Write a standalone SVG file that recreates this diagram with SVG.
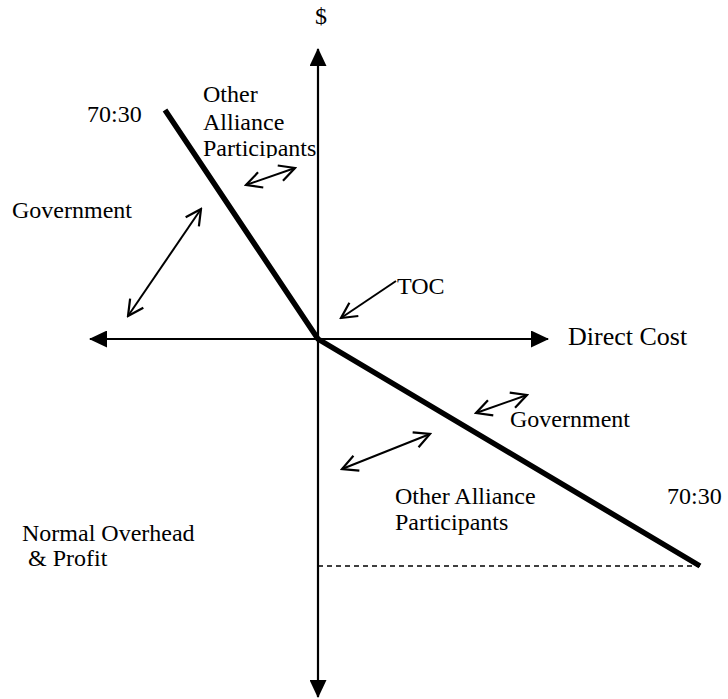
<svg xmlns="http://www.w3.org/2000/svg" width="728" height="699" viewBox="0 0 728 699">
  <style>
    .lbl { font-family: "Liberation Serif", "Times New Roman", serif; font-size: 24px; fill: #000; }
    .axis { stroke: #000; stroke-width: 2.2; fill: none; }
    .curve { stroke: #000; stroke-width: 5.5; fill: none; stroke-linejoin: miter; }
    .dbl { stroke: #000; stroke-width: 2; fill: none; }
    .dash { stroke: #000; stroke-width: 1.3; stroke-dasharray: 5 4; fill: none; }
  </style>
  <defs>
    <marker id="solidHead" viewBox="0 0 18 17" refX="17" refY="8.5" markerWidth="18" markerHeight="17" markerUnits="userSpaceOnUse" orient="auto-start-reverse">
      <path d="M0,0 L18,8.5 L0,17 Z" fill="#000"/>
    </marker>
    <marker id="openHead" viewBox="-18 -10 20 20" refX="0" refY="0" markerWidth="20" markerHeight="20" markerUnits="userSpaceOnUse" orient="auto-start-reverse">
      <path d="M-15.5,-8 L0,0 L-15.5,8" fill="none" stroke="#000" stroke-width="2.2"/>
    </marker>
    <clipPath id="boxClip">
      <rect x="195" y="75" width="140" height="83"/>
    </clipPath>
  </defs>

  <!-- axes, cost curve and pointer arrows -->
  <g id="connectors">
    <line class="axis" x1="318" y1="339" x2="318" y2="49" marker-end="url(#solidHead)"/>
    <line class="axis" x1="318" y1="339" x2="318" y2="697" marker-end="url(#solidHead)"/>
    <line class="axis" x1="318" y1="339" x2="90" y2="339" marker-end="url(#solidHead)"/>
    <line class="axis" x1="318" y1="339" x2="548" y2="339" marker-end="url(#solidHead)"/>
    <polyline class="curve" points="165,110 318,339 700,566"/>
    <line class="dash" x1="318" y1="566" x2="700" y2="566"/>
    <line class="dbl" x1="246" y1="185" x2="295" y2="168" marker-start="url(#openHead)" marker-end="url(#openHead)"/>
    <line class="dbl" x1="128" y1="316" x2="201" y2="209" marker-start="url(#openHead)" marker-end="url(#openHead)"/>
    <line class="dbl" x1="396" y1="281" x2="341" y2="318" marker-end="url(#openHead)"/>
    <line class="dbl" x1="476" y1="413" x2="527" y2="395" marker-start="url(#openHead)" marker-end="url(#openHead)"/>
    <line class="dbl" x1="342" y1="469" x2="430" y2="434" marker-start="url(#openHead)" marker-end="url(#openHead)"/>
  </g>

  <g id="label-dollar"><text class="lbl" x="315" y="24">$</text></g>
  <g id="label-direct-cost"><text class="lbl" x="568" y="345" style="font-size:26px">Direct Cost</text></g>
  <g id="label-ratio-top"><text class="lbl" x="87" y="122">70:30</text></g>
  <g id="label-other-top" clip-path="url(#boxClip)">
    <text class="lbl" x="203" y="102">Other</text>
    <text class="lbl" x="203" y="130">Alliance</text>
    <text class="lbl" x="203" y="156">Participants</text>
  </g>
  <g id="label-government-left"><text class="lbl" x="12" y="218">Government</text></g>
  <g id="label-toc"><text class="lbl" x="397" y="294">TOC</text></g>
  <g id="label-government-right"><text class="lbl" x="510" y="427">Government</text></g>
  <g id="label-other-bottom">
    <text class="lbl" x="395" y="504">Other Alliance</text>
    <text class="lbl" x="395" y="530">Participants</text>
  </g>
  <g id="label-ratio-bottom"><text class="lbl" x="667" y="504">70:30</text></g>
  <g id="label-overhead">
    <text class="lbl" x="22" y="541">Normal Overhead</text>
    <text class="lbl" x="22" y="566" xml:space="preserve"> &amp; Profit</text>
  </g>
</svg>
